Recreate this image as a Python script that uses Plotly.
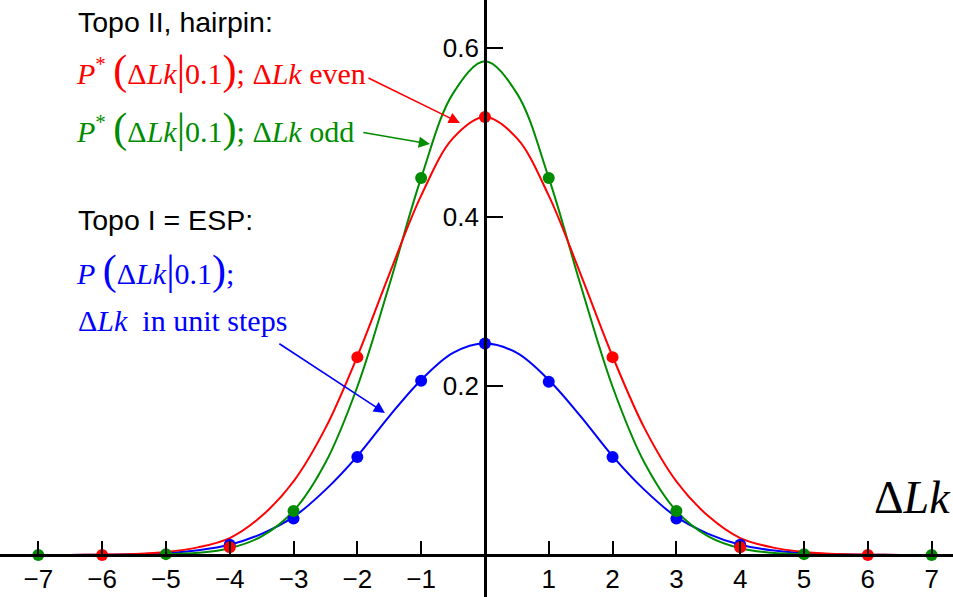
import plotly.graph_objects as go

# ---------------- data ----------------
curve_x = [-7, -6.5, -6, -5.5, -5, -4.5, -4, -3.5, -3, -2.5, -2, -1.5, -1, -0.5, 0,
           0.5, 1, 1.5, 2, 2.5, 3, 3.5, 4, 4.5, 5, 5.5, 6, 6.5, 7]
red_curve = [0.0, 0.0001, 0.0004, 0.0012, 0.0035, 0.009, 0.020, 0.046, 0.087, 0.150, 0.235,
             0.332, 0.425, 0.493, 0.518, 0.493, 0.425, 0.332, 0.235, 0.150, 0.087, 0.046,
             0.020, 0.009, 0.0035, 0.0012, 0.0004, 0.0001, 0.0]
green_curve = [0.0, 0.0, 0.0, 0.0002, 0.0007, 0.0025, 0.008, 0.022, 0.052, 0.109, 0.199,
               0.319, 0.446, 0.546, 0.584, 0.546, 0.446, 0.319, 0.199, 0.109, 0.052, 0.022,
               0.008, 0.0025, 0.0007, 0.0002, 0.0, 0.0, 0.0]
blue_curve = [0.0, 0.0001, 0.0003, 0.0008, 0.0023, 0.0056, 0.012, 0.025, 0.045, 0.077, 0.117,
              0.164, 0.207, 0.239, 0.250, 0.239, 0.207, 0.164, 0.117, 0.077, 0.045, 0.025,
              0.012, 0.0056, 0.0023, 0.0008, 0.0003, 0.0001, 0.0]

red_x = [-6, -4, -2, 0, 2, 4, 6]
red_pts = [0.0, 0.009, 0.234, 0.518, 0.234, 0.009, 0.0]
green_x = [-7, -5, -3, -1, 1, 3, 5, 7]
green_pts = [0.0, 0.001, 0.052, 0.446, 0.446, 0.052, 0.001, 0.0]
blue_x = [-4, -3, -2, -1, 0, 1, 2, 3, 4]
blue_pts = [0.012, 0.043, 0.116, 0.206, 0.250, 0.205, 0.116, 0.043, 0.012]

x_ticks = [-7, -6, -5, -4, -3, -2, -1, 1, 2, 3, 4, 5, 6, 7]
x_tick_text = ["\u2212" + str(-v) if v < 0 else str(v) for v in x_ticks]
y_ticks = [0.2, 0.4, 0.6]
y_tick_text = ["0.2", "0.4", "0.6"]

# ---------------- style ----------------
RED = "#ff0000"
GREEN = "#008c00"
BLUE = "#0000ff"
W, H = 953, 597
X_RANGE = [-7.60, 7.335]
Y_RANGE = [-0.0497, 0.6564]
SANS = "Arial, Liberation Sans, sans-serif"
SERIF = "Times New Roman, Liberation Serif, serif"

fig = go.Figure()
for cx, cy, col in [
    (curve_x, blue_curve, BLUE),
    (curve_x, green_curve, GREEN),
    (curve_x, red_curve, RED),
]:
    fig.add_trace(go.Scatter(x=cx, y=cy, mode="lines",
                             line=dict(color=col, width=2, shape="spline", smoothing=1.0),
                             hoverinfo="skip"))
for px_, py_, col in [(blue_x, blue_pts, BLUE), (green_x, green_pts, GREEN), (red_x, red_pts, RED)]:
    fig.add_trace(go.Scatter(x=px_, y=py_, mode="markers",
                             marker=dict(color=col, size=12, line=dict(width=0))))

xpos = (0 - Y_RANGE[0]) / (Y_RANGE[1] - Y_RANGE[0])
ypos = (0 - X_RANGE[0]) / (X_RANGE[1] - X_RANGE[0])

fig.update_layout(
    width=W, height=H, margin=dict(l=0, r=0, t=0, b=0),
    paper_bgcolor="white", plot_bgcolor="white", showlegend=False,
    xaxis=dict(range=X_RANGE, anchor="free", position=xpos, showline=True, linecolor="black", linewidth=2.5,
               ticks="inside", ticklen=13, tickwidth=1.5, tickcolor="black",
               tickvals=x_ticks, ticktext=x_tick_text, tickfont=dict(family=SANS, size=26, color="black"),
               showgrid=False, zeroline=False),
    yaxis=dict(range=Y_RANGE, anchor="free", position=ypos, showline=True, linecolor="black", linewidth=2.5,
               ticks="inside", ticklen=16, tickwidth=1.5, tickcolor="black",
               tickvals=y_ticks, ticktext=y_tick_text, tickfont=dict(family=SANS, size=26, color="black"),
               showgrid=False, zeroline=False),
)


def ppx(x):
    return x / W


def ppy(y):
    return 1 - y / H


BIG = '<span style="font-size:42px">'


def pexpr(star):
    s = "<i>P</i>" + ("<sup>*</sup>" if star else "")
    return s + " " + BIG + "(</span>\u0394<i>Lk</i>" + BIG + "|</span>0.1" + BIG + ")</span>;"


texts = [
    ("Topo II, hairpin:", 76, 22, SANS, 28.5, "black"),
    (pexpr(True) + " \u0394<i>Lk</i> even", 74, 70, SERIF, 30, RED),
    (pexpr(True) + " \u0394<i>Lk</i> odd", 74, 129, SERIF, 30, GREEN),
    ("Topo I = ESP:", 76, 220, SANS, 28.5, "black"),
    (pexpr(False), 74, 270, SERIF, 30, BLUE),
    ("\u0394<i>Lk</i>  in unit steps", 76, 320, SERIF, 30, BLUE),
]
for t, x, y, fam, sz, col in texts:
    fig.add_annotation(text=t, x=ppx(x), y=ppy(y), xref="paper", yref="paper", xanchor="left",
                       yanchor="middle", showarrow=False, font=dict(family=fam, size=sz, color=col))

fig.add_annotation(text="\u0394<i>Lk</i>", x=ppx(953), y=ppy(497), xref="paper", yref="paper",
                   xanchor="right", yanchor="middle", showarrow=False,
                   font=dict(family=SERIF, size=46, color="black"))

arrows = [
    (-0.392, 0.511, -1.85, 0.565, RED),
    (-0.862, 0.486, -1.93, 0.500, GREEN),
    (-1.567, 0.168, -3.245, 0.251, BLUE),
]
for x, y, ax, ay, col in arrows:
    fig.add_annotation(x=x, y=y, ax=ax, ay=ay, xref="x", yref="y", axref="x", ayref="y", text="",
                       showarrow=True, arrowhead=2, arrowsize=1.4, arrowwidth=1.6, arrowcolor=col, standoff=0)

fig.write_html("out.html")
